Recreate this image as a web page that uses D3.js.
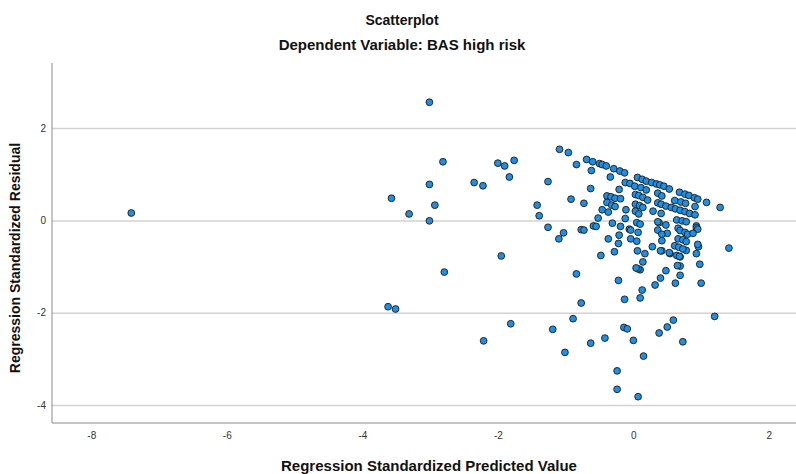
<!DOCTYPE html>
<html>
<head>
<meta charset="utf-8">
<script src="https://cdn.jsdelivr.net/npm/d3@7"></script>
<style>
  html, body { margin: 0; padding: 0; background: #fff; }
  svg { display: block; }
  text { font-family: "Liberation Sans", Arial, sans-serif; }
</style>
</head>
<body>
<div id="chart"></div>
<script>
// ---- data ----
const title = "Scatterplot";
const subtitle = "Dependent Variable: BAS high risk";
const xTitle = "Regression Standardized Predicted Value";
const yTitle = "Regression Standardized Residual";
const xTicks = [-8, -6, -4, -2, 0, 2];
const yTicks = [-4, -2, 0, 2];
const xDomain = [-8.58, 2.40];
const yDomain = [-4.39, 3.41];

const predicted = [
  -7.41, -3.01, -2.81, -3.01, -3.57, -2.93, -3.31, -3.01, -2.35, -2.22,
  -2.00, -1.90, -1.76, -1.83, -1.42, -1.39, -1.95, -2.79, -3.62, -3.51,
  -1.81, -2.21, -1.09, -0.96, -1.26, -0.84, -0.69, -0.60, -0.50, -0.46,
  -0.40, -0.62, -0.29, -0.20, -0.13, -0.34, -0.63, -0.92, -0.73, -1.26,
  -1.03, -1.10, -0.77, -0.73, -0.59, -0.55, -0.52, -0.46, -0.39, -0.33,
  -0.27, -0.39, -0.32, -0.27, -0.37, -0.21, -0.19, -0.11, -0.12, -0.31,
  -0.19, -0.12, -0.06, -0.37, -0.05,
  0.06, 0.13, 0.19, 0.27, 0.34, 0.39, 0.45, 0.53,
  0.02, 0.11, 0.19,
  0.03, 0.08, 0.14, 0.21,
  0.03, 0.09, 0.14,
  0.03, 0.08, 0.05, 0.10,
  0.36, 0.42,
  0.36, 0.41, 0.48, 0.56, 0.62, 0.69, 0.76, 0.83, 0.91,
  0.29, 0.41, 0.38, 0.48,
  0.68, 0.76, 0.82, 0.90, 0.95,
  0.61, 0.70, 0.77, 0.91, 1.08, 1.28,
  0.64, 0.72, 0.78, 0.66, 0.93, 1.41, 0.93, 0.95, 0.96, 0.93,
  0.98, 1.00, 0.69, 0.69, 0.62, 0.48, 0.40, 0.32, 0.13, 0.10,
  1.20, 0.59, 0.50, 0.38, 0.73, 0.15,
  0.28, 0.42, 0.54, 0.64, 0.69, 0.78, 0.17, 0.14, 0.10,
  -0.22, -0.28, -0.48, -0.21, -0.04, 0.07, -0.04, 0.05, 0.06, 0.07, 0.04,
  0.36, 0.36, 0.40, 0.50, 0.42, 0.53, 0.42,
  0.69, 0.76, 0.66, 0.73, 0.78, 0.61, 0.67, 0.73, 0.68, 0.65, 0.80, 0.88,
  0.95, -0.22, -0.13,
  -0.84, -0.77, -0.89, -1.19, -0.42, -0.14, -0.09,
  -1.01, -0.63, 0.00, -0.24, -0.24, 0.07
];

const residual = [
  0.16, 2.56, 1.27, 0.78, 0.48, 0.33, 0.14, -0.01, 0.82, 0.75,
  1.24, 1.18, 1.30, 0.94, 0.33, 0.10, -0.77, -1.12, -1.87, -1.92,
  -2.24, -2.61, 1.54, 1.47, 0.84, 1.21, 1.32, 1.27, 1.23, 1.21,
  1.18, 1.08, 1.12, 1.07, 1.03, 0.94, 0.69, 0.46, 0.37, -0.15,
  -0.27, -0.40, -0.20, -0.21, -0.12, -0.13, 0.05, 0.23, 0.53, 0.51,
  0.48, 0.39, 0.33, 0.30, 0.18, 0.67, 0.47, 0.23, 0.82, -0.06,
  -0.13, 0.04, -0.19, -0.40, 0.80,
  0.93, 0.89, 0.85, 0.82, 0.79, 0.77, 0.74, 0.68,
  0.74, 0.71, 0.66,
  0.56, 0.54, 0.50, 0.44,
  0.35, 0.32, 0.28,
  0.20, 0.14, -0.05, -0.08,
  0.59, 0.53,
  0.38, 0.35, 0.31, 0.28, 0.25, 0.22, 0.19, 0.15, 0.12,
  0.20, 0.15, -0.05, -0.10,
  0.61, 0.57, 0.54, 0.49, 0.46,
  0.43, 0.40, 0.37, 0.30, 0.39, 0.28,
  0.01, -0.01, -0.03, -0.17, -0.12, -0.60, -0.16, -0.19, -0.57, -0.72,
  -0.95, -1.36, -0.99, -1.19, -1.36, -1.09, -1.25, -1.40, -1.51, -1.68,
  -2.08, -2.16, -2.31, -2.44, -2.63, -2.94,
  -0.57, -0.66, -0.72, -0.76, -0.79, -0.65, -0.72, -0.90, -1.07,
  -0.50, -0.68, -0.76, -0.32, -0.21, -0.26, -0.40, -0.45, -0.66, -1.05, -1.03,
  -0.03, -0.21, -0.66, -0.28, -0.44, -0.70, -0.30,
  -0.22, -0.26, -0.40, -0.42, -0.46, -0.55, -0.58, -0.62, -0.78, -0.98, -0.30, -0.28,
  -0.52, -1.30, -1.71,
  -1.16, -1.79, -2.13, -2.36, -2.55, -2.32, -2.35,
  -2.86, -2.66, -2.60, -3.26, -3.66, -3.82
];

// ---- layout ----
const W = 796, H = 474;
const plot = { left: 52, right: 796, top: 63, bottom: 423 };

const svg = d3.select("#chart").append("svg")
  .attr("width", W).attr("height", H)
  .style("background", "#fff");

const x = d3.scaleLinear().domain(xDomain).range([plot.left, plot.right]);
const y = d3.scaleLinear().domain(yDomain).range([plot.bottom, plot.top]);

// gridlines
svg.append("g")
  .attr("transform", `translate(${plot.left},0)`)
  .call(d3.axisLeft(y).tickValues(yTicks).tickSize(-(plot.right - plot.left)).tickFormat(""))
  .call(g => g.select(".domain").remove())
  .call(g => g.selectAll(".tick line").attr("stroke", "#d2d2d2").attr("stroke-width", 1.5));

// y axis labels
svg.append("g")
  .attr("transform", `translate(${plot.left},0)`)
  .call(d3.axisLeft(y).tickValues(yTicks).tickSize(0).tickPadding(6).tickFormat(d => String(d)))
  .call(g => g.select(".domain").remove())
  .call(g => g.selectAll("text").attr("fill", "#333").style("font-size", "10px")
    .style("font-family", "'Liberation Sans', Arial, sans-serif"));

// x axis labels
svg.append("g")
  .attr("transform", `translate(0,${plot.bottom})`)
  .call(d3.axisBottom(x).tickValues(xTicks).tickSize(0).tickPadding(9).tickFormat(d => String(d)))
  .call(g => g.select(".domain").remove())
  .call(g => g.selectAll("text").attr("fill", "#333").style("font-size", "10px")
    .style("font-family", "'Liberation Sans', Arial, sans-serif"));

// axis lines
svg.append("line")
  .attr("x1", plot.left).attr("x2", plot.left)
  .attr("y1", plot.top).attr("y2", plot.bottom)
  .attr("stroke", "#8a8a8a").attr("stroke-width", 1);
svg.append("line")
  .attr("x1", plot.left).attr("x2", plot.right)
  .attr("y1", plot.bottom).attr("y2", plot.bottom)
  .attr("stroke", "#8a8a8a").attr("stroke-width", 1);

// points
const pts = predicted.map((p, i) => ({ p, r: residual[i] }));
svg.append("g").selectAll("circle")
  .data(pts).join("circle")
  .attr("cx", d => x(d.p))
  .attr("cy", d => y(d.r))
  .attr("r", 3.4)
  .attr("fill", "#1f8fe3")
  .attr("stroke", "#1b1b1b")
  .attr("stroke-width", 0.9);

// titles
svg.append("text").attr("x", 402).attr("y", 25)
  .attr("text-anchor", "middle").style("font-size", "14px").style("font-weight", "bold")
  .attr("fill", "#111").text(title);
svg.append("text").attr("x", 402).attr("y", 50)
  .attr("text-anchor", "middle").style("font-size", "15px").style("font-weight", "bold")
  .attr("fill", "#111").text(subtitle);
svg.append("text").attr("x", 429).attr("y", 471)
  .attr("text-anchor", "middle").style("font-size", "15px").style("font-weight", "bold")
  .attr("fill", "#111").text(xTitle);
svg.append("text")
  .attr("transform", `translate(20,${258}) rotate(-90)`)
  .attr("text-anchor", "middle").style("font-size", "14px").style("font-weight", "bold")
  .attr("fill", "#111").text(yTitle);
</script>
</body>
</html>
